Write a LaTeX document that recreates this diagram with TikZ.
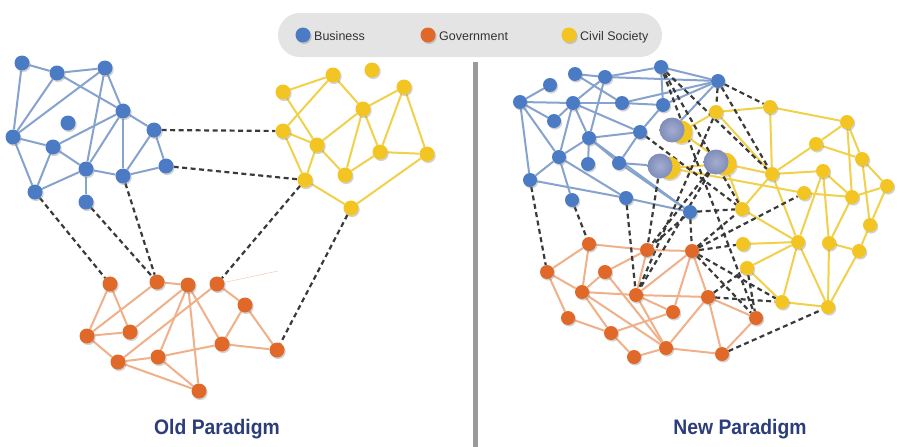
\documentclass[tikz,border=0pt]{standalone}
\usepackage{fontspec}
\setmainfont{Liberation Sans}
\usetikzlibrary{shadows}
\pgfdeclarelayer{base}
\pgfdeclarelayer{bg}
\pgfdeclarelayer{mid}
\pgfsetlayers{base,bg,mid,main}
\definecolor{colB}{HTML}{4A7BC4}
\definecolor{colBe}{HTML}{86A3CE}
\definecolor{colO}{HTML}{E0692A}
\definecolor{colOe}{HTML}{EFB08A}
\definecolor{colY}{HTML}{F2C523}
\definecolor{colYe}{HTML}{F1D04A}
\definecolor{colD}{HTML}{3A3A3A}
\definecolor{colT}{HTML}{2B3D7A}
\definecolor{colL}{HTML}{E4E4E4}
\definecolor{colV}{HTML}{9A9A9A}
\definecolor{colGi}{HTML}{A4ADCF}
\definecolor{colGo}{HTML}{7F8DBA}
\begin{document}
\begin{tikzpicture}[x=1pt,y=-1pt,
  nd/.style={circle, inner sep=0pt, minimum size=14pt,
    drop shadow={shadow xshift=1.2pt, shadow yshift=-1.6pt, opacity=0.35}},
  bnd/.style={nd, fill=colB},
  ond/.style={nd, fill=colO},
  ynd/.style={nd, fill=colY},
  bedg/.style={draw=colBe, line width=2pt},
  oedg/.style={draw=colOe, line width=2pt},
  yedg/.style={draw=colYe, line width=2pt},
  dline/.style={draw=colD, line width=2.2pt, dash pattern=on 5pt off 3.5pt},
  ghost/.style={circle, inner sep=0pt, minimum size=25pt, shading=radial,
    inner color=colGi, outer color=colGo},
  gyel/.style={circle, inner sep=0pt, minimum size=23pt, fill=colY},
  legtxt/.style={anchor=base west, inner sep=0pt, text=black!80, font=\fontsize{12.5}{14}\selectfont},
  title/.style={text=colT, font=\fontsize{21}{24}\selectfont\bfseries}
]
\useasboundingbox (0,0) rectangle (908,447);
\begin{pgfonlayer}{base}
\fill[white] (0,0) rectangle (908,447);
\end{pgfonlayer}

% legend
\fill[colL, rounded corners=22pt] (278,13) rectangle (662,57);
\node[nd, fill=colB, minimum size=15pt] (lb) at (303,35) {};
\node[legtxt] (lbt) at (314,40) {Business};
\node[nd, fill=colO, minimum size=15pt] (lo) at (428,35) {};
\node[legtxt] (lot) at (439,40) {Government};
\node[nd, fill=colY, minimum size=15pt] (ly) at (569,35) {};
\node[legtxt] (lyt) at (580,40) {Civil Society};

% divider
\coordinate (v1) at (475,62);
\coordinate (v2) at (475,447);
\draw[colV, line width=5pt] (v1) -- (v2);

% titles
\node[title] (t1) at (217,429) {\scalebox{0.92}[1]{Old Paradigm}};
\node[title] (t2) at (740,429) {\scalebox{0.92}[1]{New Paradigm}};

% ---------- OLD PARADIGM ----------
\begin{scope}[nd/.append style={minimum size=15pt}]
\foreach \n/\x/\y in {b1/22/63, b2/57/73, b3/105/68, b4/123/111, b5/68/123, b6/154/130,
  b7/13/137, b8/53/147, b9/86/169, b10/123/176, b11/166/166, b12/35/192, b13/86/202}
  \node[bnd] (\n) at (\x,\y) {};
\foreach \n/\x/\y in {y1/283/92, y2/333/75, y3/372/70, y4/404/87, y5/363/109, y6/283/131,
  y7/317/145, y8/380/152, y9/427/154, y10/345/175, y11/305/180, y12/351/208}
  \node[ynd] (\n) at (\x,\y) {};
\foreach \n/\x/\y in {o1/110/284, o2/157/282, o3/188/285, o4/217/284, o5/245/305, o6/87/336,
  o7/130/332, o8/222/344, o9/277/350, o10/118/362, o11/158/357, o12/199/391}
  \node[ond] (\n) at (\x,\y) {};
\end{scope}
\coordinate (fz) at (278,271);

\begin{pgfonlayer}{bg}
\foreach \a/\b in {b1/b2, b2/b3, b1/b7, b2/b7, b3/b7, b2/b4, b3/b4, b3/b9, b7/b8, b4/b8,
  b8/b9, b8/b12, b7/b12, b4/b9, b4/b10, b4/b6, b6/b10, b6/b11, b9/b10, b10/b11, b9/b12, b9/b13}
  \draw[bedg] (\a) -- (\b);
\foreach \a/\b in {y1/y2, y1/y7, y2/y6, y2/y5, y5/y4, y5/y7, y5/y10, y5/y8, y4/y8, y4/y9,
  y8/y9, y8/y10, y6/y7, y6/y11, y7/y10, y7/y11, y11/y12, y12/y9}
  \draw[yedg] (\a) -- (\b);
\foreach \a/\b in {o1/o6, o1/o7, o2/o6, o2/o3, o3/o7, o3/o11, o3/o8, o3/o12, o4/o10, o4/o5,
  o5/o8, o5/o9, o6/o7, o6/o10, o10/o11, o10/o12, o11/o12, o11/o8, o8/o9}
  \draw[oedg] (\a) -- (\b);
\draw[colO!40, line width=0.4pt] (o4) -- (fz);
\end{pgfonlayer}
\begin{pgfonlayer}{mid}
\foreach \a/\b in {b6/y6, b11/y11, b12/o1, b13/o2, b10/o2, y11/o4, y12/o9}
  \draw[dline] (\a) -- (\b);
\end{pgfonlayer}

% ---------- NEW PARADIGM ----------
\foreach \n/\x/\y in {n1/520/102, n2/550/85, n3/575/74, n4/605/77, n5/573/103, n6/554/121,
  n7/622/103, n8/640/132, n9/589/138, n10/559/157, n11/588/164, n12/619/163, n13/530/180,
  n14/572/200, n15/626/198, n16/661/67, n17/663/105, n18/718/81, n19/690/212}
  \node[bnd] (\n) at (\x,\y) {};
\foreach \n/\x/\y in {ya/770/107, yb/847/122, yc/816/144, yd/862/159, ye/772/174, yf/823/171,
  yg/887/186, yh/804/193, yi/852/197, yj/742/209, yk/870/225, yl/798/242, ym/829/243,
  yn/743/244, yo/859/251, yp/747/268, yq/782/302, yr/828/307, ys/716/112}
  \node[ynd] (\n) at (\x,\y) {};
\foreach \n/\x/\y in {p1/589/244, p2/647/250, p3/692/251, p4/547/272, p5/605/272, p6/582/292,
  p7/636/295, p8/708/297, p9/568/318, p10/673/312, p11/756/318, p12/611/333, p13/666/348,
  p14/634/357, p15/722/354}
  \node[ond] (\n) at (\x,\y) {};

% ghost (overlapping) nodes
\foreach \n/\x/\y in {g1/672/130, g2/660/166, g3/716/162}{
  \node[gyel, drop shadow={shadow xshift=1.2pt, shadow yshift=-1.6pt, opacity=0.3}] (\n y) at (\x+9,\y+2) {};
  \node[ghost] (\n) at (\x,\y) {};
}

\begin{pgfonlayer}{bg}
\foreach \a/\b in {n1/n2, n1/n5, n1/n6, n1/n10, n1/n13, n3/n4, n3/n7, n4/n5, n4/n9, n4/n16,
  n4/n18, n5/n6, n5/n7, n5/n9, n5/n10, n5/n8, n7/n18, n7/n17, n9/n8, n9/n10, n9/n11, n9/n12,
  n9/n19, n8/n12, n8/n17, n10/n13, n10/n14, n10/n15, n13/n15, n12/n19, n15/n19, n16/n17,
  n16/n18, n17/n18, n18/g1, n12/g2}
  \draw[bedg] (\a) -- (\b);
\foreach \a/\b in {ya/yb, ya/ye, ya/ys, yb/yc, yb/yd, yb/yi, yc/ye, yc/yd, yd/yg, yd/yk,
  ye/yf, ye/yj, ye/yl, yf/yi, yf/ym, yf/yl, yh/yi, yi/yg, yi/ym, yk/yg, yk/yo, yj/yl, yl/yn,
  yl/yp, yl/yq, yl/yr, ym/yo, ym/yr, yo/yr, yp/yq, yq/yr, ys/ye, ys/g1y, g1y/g3y, g2y/g3y,
  g2y/yh, g3y/ye, g3y/yj}
  \draw[yedg] (\a) -- (\b);
\foreach \a/\b in {p1/p4, p1/p2, p1/p6, p5/p6, p5/p2, p2/p3, p2/p7, p3/p7, p3/p10, p3/p8,
  p4/p6, p4/p9, p6/p7, p6/p12, p6/p13, p5/p13, p7/p8, p7/p10, p7/p13, p8/p13, p8/p11, p8/p15,
  p9/p12, p10/p12, p12/p14, p13/p14, p13/p15, p15/p11}
  \draw[oedg] (\a) -- (\b);
\end{pgfonlayer}
\begin{pgfonlayer}{mid}
\foreach \a/\b in {n13/p4, n14/p1, n15/p7, g2/p2, g3/p2, g3/p7, n19/p2, n19/p3, n19/yj,
  n16/yj, n16/ye, n16/p11, n18/ya, n18/ye, n18/ys, ys/p7, n8/yj, p3/yj, p3/yn, p3/yh, p3/yq,
  p3/p11, p8/yq, p8/yp, yp/p11, p15/yr}
  \draw[dline] (\a) -- (\b);
\end{pgfonlayer}
\end{tikzpicture}
\end{document}
